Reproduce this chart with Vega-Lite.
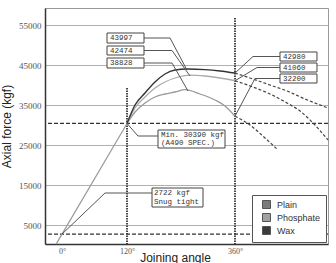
{
  "$schema": "https://vega.github.io/schema/vega-lite/v6.json",
  "width": 283,
  "height": 236,
  "autosize": {"type": "none"},
  "padding": {"left": 45, "top": 8, "right": 8, "bottom": 19},
  "background": "white",
  "config": {
    "view": {"stroke": "#999", "strokeWidth": 1},
    "legend": {
      "orient": "bottom-right", "offset": 2, "fillColor": "white", "strokeColor": "#555",
      "padding": 5, "symbolType": "square", "symbolSize": 64, "symbolStrokeColor": "#555",
      "symbolStrokeWidth": 1, "symbolOpacity": 1, "labelFont": "Liberation Sans", "labelFontSize": 9,
      "labelColor": "#333", "rowPadding": 0, "symbolOffset": 5, "labelOffset": 6
    }
  },
  "datasets": {
    "solid": [
      {"s": "Wax", "a": 120, "v": 30390}, {"s": "Wax", "a": 137.8, "v": 35000}, {"s": "Wax", "a": 160, "v": 38000},
      {"s": "Wax", "a": 182.2, "v": 40750}, {"s": "Wax", "a": 204.4, "v": 42750}, {"s": "Wax", "a": 226.7, "v": 43750},
      {"s": "Wax", "a": 253.3, "v": 43997}, {"s": "Wax", "a": 293.3, "v": 43850}, {"s": "Wax", "a": 326.7, "v": 43500},
      {"s": "Wax", "a": 360, "v": 42980},
      {"s": "Phosphate", "a": 120, "v": 30390}, {"s": "Phosphate", "a": 137.8, "v": 34250}, {"s": "Phosphate", "a": 160, "v": 37000},
      {"s": "Phosphate", "a": 182.2, "v": 39250}, {"s": "Phosphate", "a": 204.4, "v": 40750}, {"s": "Phosphate", "a": 226.7, "v": 41750},
      {"s": "Phosphate", "a": 260, "v": 42474}, {"s": "Phosphate", "a": 293.3, "v": 42250}, {"s": "Phosphate", "a": 326.7, "v": 41750},
      {"s": "Phosphate", "a": 360, "v": 41060},
      {"s": "Plain", "a": 120, "v": 30390}, {"s": "Plain", "a": 137.8, "v": 33250}, {"s": "Plain", "a": 160, "v": 35500},
      {"s": "Plain", "a": 182.2, "v": 37000}, {"s": "Plain", "a": 204.4, "v": 37750}, {"s": "Plain", "a": 226.7, "v": 38250},
      {"s": "Plain", "a": 248.9, "v": 38828}, {"s": "Plain", "a": 282.2, "v": 37750}, {"s": "Plain", "a": 315.6, "v": 36250},
      {"s": "Plain", "a": 337.8, "v": 34750}, {"s": "Plain", "a": 360, "v": 32200}
    ],
    "dashed": [
      {"s": "Wax", "a": 360, "v": 42980}, {"s": "Wax", "a": 400, "v": 41500}, {"s": "Wax", "a": 437.8, "v": 40000},
      {"s": "Wax", "a": 475.6, "v": 38500}, {"s": "Wax", "a": 515.6, "v": 36500}, {"s": "Wax", "a": 566.7, "v": 34250},
      {"s": "Phosphate", "a": 360, "v": 41060}, {"s": "Phosphate", "a": 400, "v": 39500}, {"s": "Phosphate", "a": 437.8, "v": 37750},
      {"s": "Phosphate", "a": 475.6, "v": 35500}, {"s": "Phosphate", "a": 504.4, "v": 33500}, {"s": "Phosphate", "a": 533.3, "v": 30500},
      {"s": "Phosphate", "a": 566.7, "v": 26250},
      {"s": "Plain", "a": 360, "v": 32200}, {"s": "Plain", "a": 393.3, "v": 30000}, {"s": "Plain", "a": 426.7, "v": 26750},
      {"s": "Plain", "a": 455.6, "v": 23750}
    ],
    "rise": [
      {"a": -10.8, "v": 232}, {"a": 0, "v": 2722}, {"a": 120, "v": 30390}
    ],
    "boxes": [
      {"a1": 83.1, "a2": 157.8, "v1": 50500, "v2": 53000},
      {"a1": 83.1, "a2": 157.8, "v1": 47500, "v2": 49750},
      {"a1": 83.1, "a2": 157.8, "v1": 44250, "v2": 46750},
      {"a1": 460, "a2": 542.2, "v1": 46000, "v2": 48250},
      {"a1": 460, "a2": 542.2, "v1": 43250, "v2": 45500},
      {"a1": 460, "a2": 542.2, "v1": 40500, "v2": 42750},
      {"a1": 188.9, "a2": 337.8, "v1": 24250, "v2": 28750},
      {"a1": 175.6, "a2": 288.9, "v1": 9500, "v2": 14250}
    ],
    "texts": [
      {"t": "43997", "a": 88.6, "v": 51750},
      {"t": "42474", "a": 88.6, "v": 48625},
      {"t": "38828", "a": 88.6, "v": 45500},
      {"t": "42980", "a": 466.7, "v": 47125},
      {"t": "41060", "a": 466.7, "v": 44375},
      {"t": "32200", "a": 466.7, "v": 41625},
      {"t": "Min. 30390 kgf", "a": 195.6, "v": 27600},
      {"t": "(A490 SPEC.)", "a": 195.6, "v": 25500},
      {"t": "2722 kgf", "a": 180, "v": 13000},
      {"t": "Snug tight", "a": 180, "v": 10750}
    ],
    "leaders": [
      {"id": 1, "o": 1, "a": 157.8, "v": 51750}, {"id": 1, "o": 2, "a": 215.6, "v": 51750}, {"id": 1, "o": 3, "a": 253.3, "v": 43750},
      {"id": 2, "o": 1, "a": 157.8, "v": 48625}, {"id": 2, "o": 2, "a": 220, "v": 48625}, {"id": 2, "o": 3, "a": 260, "v": 42250},
      {"id": 3, "o": 1, "a": 157.8, "v": 45500}, {"id": 3, "o": 2, "a": 220, "v": 45500}, {"id": 3, "o": 3, "a": 255.6, "v": 38500},
      {"id": 4, "o": 1, "a": 460, "v": 47125}, {"id": 4, "o": 2, "a": 400, "v": 47125}, {"id": 4, "o": 3, "a": 360, "v": 42980},
      {"id": 5, "o": 1, "a": 460, "v": 44375}, {"id": 5, "o": 2, "a": 408.9, "v": 44375}, {"id": 5, "o": 3, "a": 360, "v": 41060},
      {"id": 6, "o": 1, "a": 460, "v": 41625}, {"id": 6, "o": 2, "a": 404.4, "v": 41625}, {"id": 6, "o": 3, "a": 360, "v": 32200},
      {"id": 7, "o": 1, "a": 120, "v": 30390}, {"id": 7, "o": 2, "a": 144.4, "v": 27250}, {"id": 7, "o": 3, "a": 188.9, "v": 27250},
      {"id": 8, "o": 1, "a": 175.6, "v": 13000}, {"id": 8, "o": 2, "a": 79.4, "v": 13000}, {"id": 8, "o": 3, "a": 0, "v": 2722}
    ],
    "vlines": [
      {"a": 120, "v1": 39250, "v2": 250},
      {"a": 360, "v1": 56750, "v2": 250}
    ],
    "hlines": [{"v": 30390}, {"v": 2722}]
  },
  "layer": [
    {
      "data": {"name": "hlines"},
      "mark": {"type": "rule", "color": "#333", "strokeWidth": 1.2, "strokeDash": [4, 2]},
      "encoding": {
        "y": {"field": "v", "type": "quantitative",
          "scale": {"domain": [250, 59250], "nice": false, "zero": false},
          "axis": {"values": [5000, 15000, 25000, 35000, 45000, 55000], "format": "d", "title": "Axial force (kgf)",
            "titleFont": "Liberation Sans", "titleFontSize": 12, "titleFontWeight": "normal", "titleColor": "#222",
            "titlePadding": 5, "labelFont": "Liberation Serif", "labelFontSize": 9, "labelColor": "#555",
            "ticks": false, "labelPadding": 4, "domainColor": "#333", "domainWidth": 1.5,
            "grid": true, "gridColor": "#b0b0b0", "gridWidth": 1}
        }
      }
    },
    {
      "data": {"name": "vlines"},
      "mark": {"type": "rule", "color": "#333", "strokeWidth": 1.8, "strokeDash": [1.5, 1]},
      "encoding": {
        "x": {"field": "a", "type": "quantitative",
          "scale": {"domain": [-31.4, 0, 120, 360, 566.7], "range": [0, 17, 82, 190, 283], "nice": false, "zero": false},
          "axis": {"values": [0, 120, 360], "labelExpr": "datum.value + '°'", "title": "Joining angle",
            "titleFont": "Liberation Sans", "titleFontSize": 12, "titleFontWeight": "normal", "titleColor": "#222",
            "titleX": 130, "titleY": 8, "titleBaseline": "top",
            "labelFont": "Liberation Serif", "labelFontSize": 8, "labelColor": "#555",
            "ticks": false, "labelPadding": 3, "domainColor": "#333", "domainWidth": 1.5, "grid": false}
        },
        "y": {"field": "v1", "type": "quantitative"},
        "y2": {"field": "v2"}
      }
    },
    {
      "data": {"name": "rise"},
      "mark": {"type": "line", "color": "#999", "strokeWidth": 1.2},
      "encoding": {
        "x": {"field": "a", "type": "quantitative"},
        "y": {"field": "v", "type": "quantitative"}
      }
    },
    {
      "data": {"name": "dashed"},
      "mark": {"type": "line", "color": "#444", "strokeWidth": 1.2, "strokeDash": [3, 2], "interpolate": "monotone"},
      "encoding": {
        "x": {"field": "a", "type": "quantitative"},
        "y": {"field": "v", "type": "quantitative"},
        "detail": {"field": "s"}
      }
    },
    {
      "data": {"name": "solid"},
      "transform": [{"filter": "datum.s == 'Plain'"}],
      "mark": {"type": "line", "strokeWidth": 1.3, "interpolate": "monotone", "color": "#9a9a9a"},
      "encoding": {
        "x": {"field": "a", "type": "quantitative"},
        "y": {"field": "v", "type": "quantitative"}
      }
    },
    {
      "data": {"name": "solid"},
      "transform": [{"filter": "datum.s == 'Phosphate'"}],
      "mark": {"type": "line", "strokeWidth": 1.3, "interpolate": "monotone", "color": "#ababab"},
      "encoding": {
        "x": {"field": "a", "type": "quantitative"},
        "y": {"field": "v", "type": "quantitative"}
      }
    },
    {
      "data": {"name": "solid"},
      "transform": [{"filter": "datum.s == 'Wax'"}],
      "mark": {"type": "line", "strokeWidth": 1.4, "interpolate": "monotone", "color": "#333333"},
      "encoding": {
        "x": {"field": "a", "type": "quantitative"},
        "y": {"field": "v", "type": "quantitative"}
      }
    },
    {
      "data": {"name": "leaders"},
      "mark": {"type": "line", "color": "#555", "strokeWidth": 1},
      "encoding": {
        "x": {"field": "a", "type": "quantitative"},
        "y": {"field": "v", "type": "quantitative"},
        "detail": {"field": "id"},
        "order": {"field": "o", "type": "quantitative"}
      }
    },
    {
      "data": {"name": "boxes"},
      "mark": {"type": "rect", "fill": "white", "stroke": "#444", "strokeWidth": 1},
      "encoding": {
        "x": {"field": "a1", "type": "quantitative"},
        "x2": {"field": "a2"},
        "y": {"field": "v1", "type": "quantitative"},
        "y2": {"field": "v2"}
      }
    },
    {
      "data": {"name": "texts"},
      "mark": {"type": "text", "align": "left", "baseline": "middle", "font": "Liberation Mono", "fontSize": 7.5, "color": "#333"},
      "encoding": {
        "x": {"field": "a", "type": "quantitative"},
        "y": {"field": "v", "type": "quantitative"},
        "text": {"field": "t"}
      }
    },
    {
      "data": {"name": "solid"},
      "mark": {"type": "point", "shape": "square", "filled": true, "opacity": 0},
      "encoding": {
        "x": {"field": "a", "type": "quantitative"},
        "y": {"field": "v", "type": "quantitative"},
        "fill": {"field": "s", "type": "nominal",
          "scale": {"domain": ["Plain", "Phosphate", "Wax"], "range": ["#7a7a7a", "#a2a2a2", "#3a3a3a"]},
          "legend": {"title": null}}
      }
    }
  ]
}
